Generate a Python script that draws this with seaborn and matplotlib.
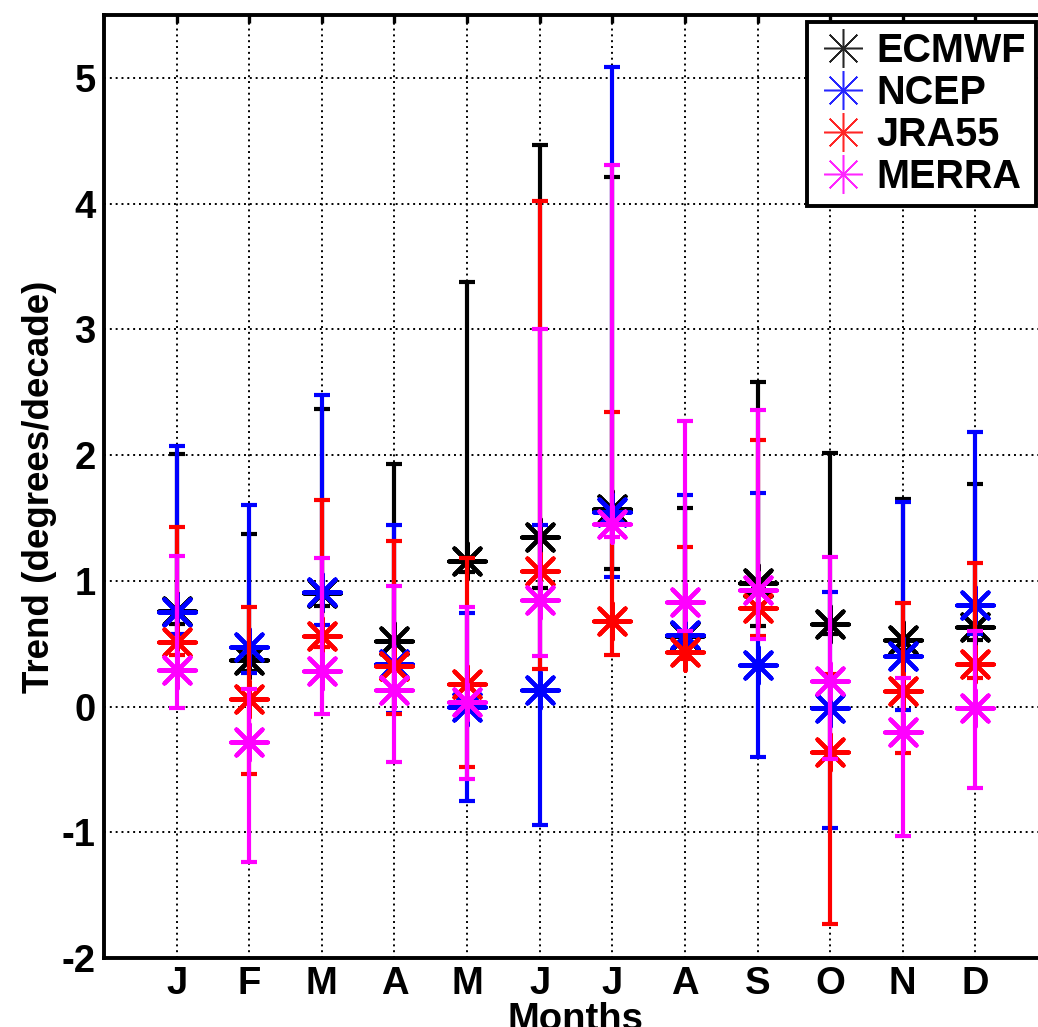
import numpy as np
import matplotlib
matplotlib.use("Agg")
import matplotlib.pyplot as plt
from matplotlib.lines import Line2D
import seaborn as sns

# data (trend in degrees/decade, with lower/upper bounds)
months = ["J", "F", "M", "A", "M", "J", "J", "A", "S", "O", "N", "D"]
names = ["ECMWF", "NCEP", "JRA55", "MERRA"]
colors = ["#000000", "#0000ff", "#ff0000", "#ff00ff"]

ecmwf_mid = [0.76, 0.37, 0.90, 0.52, 1.16, 1.35, 1.57, 0.56, 0.98, 0.66, 0.53, 0.63]
ecmwf_hi = [2.01, 1.37, 2.37, 1.93, 3.38, 4.47, 4.21, 1.58, 2.58, 2.02, 1.65, 1.77]
ecmwf_lo = [0.66, 0.28, 0.80, 0.35, 1.07, 0.94, 1.09, 0.48, 0.64, 0.58, 0.45, 0.53]

ncep_mid = [0.75, 0.47, 0.91, 0.34, 0.00, 0.13, 1.55, 0.57, 0.33, -0.01, 0.40, 0.81]
ncep_hi = [2.07, 1.60, 2.48, 1.44, 0.74, 1.44, 5.09, 1.68, 1.70, 0.91, 1.63, 2.18]
ncep_lo = [0.58, 0.27, 0.65, -0.05, -0.75, -0.94, 1.03, 0.50, -0.40, -0.97, -0.03, 0.58]

jra_mid = [0.51, 0.06, 0.56, 0.32, 0.18, 1.08, 0.68, 0.43, 0.78, -0.36, 0.12, 0.34]
jra_hi = [1.43, 0.79, 1.64, 1.32, 1.18, 4.02, 2.34, 1.27, 2.12, 0.26, 0.82, 1.14]
jra_lo = [0.41, -0.54, 0.47, -0.06, -0.48, 0.30, 0.41, 0.38, 0.56, -1.73, -0.37, 0.23]

merra_mid = [0.29, -0.28, 0.28, 0.13, 0.04, 0.85, 1.45, 0.83, 0.93, 0.20, -0.20, -0.01]
merra_hi = [1.20, 0.14, 1.18, 0.96, 0.79, 3.00, 4.31, 2.27, 2.36, 1.19, 0.23, 0.60]
merra_lo = [-0.01, -1.24, -0.06, -0.44, -0.58, 0.40, 1.35, 0.60, 0.54, -0.42, -1.03, -0.65]

mids = [ecmwf_mid, ncep_mid, jra_mid, merra_mid]
highs = [ecmwf_hi, ncep_hi, jra_hi, merra_hi]
lows = [ecmwf_lo, ncep_lo, jra_lo, merra_lo]

# =====================================================
# Style
# =====================================================

sns.set_theme(style="white")
plt.rcParams["font.family"] = ["Liberation Sans", "DejaVu Sans"]
plt.rcParams["font.weight"] = "bold"
plt.rcParams["axes.unicode_minus"] = False
plt.rcParams["text.color"] = "black"
plt.rcParams["axes.labelcolor"] = "black"
plt.rcParams["xtick.color"] = "black"
plt.rcParams["ytick.color"] = "black"

fig = plt.figure(figsize=(10.38, 10.27), dpi=100)
ax = fig.add_axes([104 / 1038, 69 / 1027, 944 / 1038, 943 / 1027])

asterisk = (8, 2, 0)
x = np.arange(1, len(months) + 1)

# =====================================================
# Error bars + markers, one series after the other
# =====================================================

for i, (name, c) in enumerate(zip(names, colors)):
    mid = np.array(mids[i])
    hi = np.array(highs[i])
    lo = np.array(lows[i])

    ax.errorbar(
        x, mid,
        yerr=[mid - lo, hi - mid],
        fmt="none",
        ecolor=c,
        elinewidth=3,
        capsize=5.5,
        capthick=3,
        zorder=3 + 2 * i
    )

    sns.scatterplot(
        x=x, y=mid,
        marker=asterisk,
        s=700,
        color=c,
        linewidth=3,
        ax=ax,
        legend=False,
        zorder=4 + 2 * i
    )

# =====================================================
# Axes
# =====================================================

ax.set_xlim(0, 13)
ax.set_ylim(-2, 5.5)
ax.set_xticks(x)
ax.set_xticklabels(months)
ax.set_yticks(np.arange(-2, 6))

ax.grid(True, color="black", linestyle=(0, (1, 2)), linewidth=1.4)
ax.set_axisbelow(True)

for sp in ax.spines.values():
    sp.set_color("black")
    sp.set_linewidth(2.8)

ax.tick_params(
    direction="in", length=6, width=2.4,
    top=True, right=True, labelsize=27.5, pad=6, colors="black"
)
ax.tick_params(axis="x", pad=6)

ax.set_xlabel("Months", fontsize=27.5, fontweight="bold", labelpad=0)
ax.set_ylabel("Trend (degrees/decade)", fontsize=26.5, fontweight="bold", labelpad=3)

# =====================================================
# Legend
# =====================================================

handles = [
    Line2D([], [], color=c, marker=asterisk, markersize=28,
           markeredgewidth=1.1, linestyle="None", alpha=0.85)
    for c in colors
]

leg = ax.legend(
    handles, names,
    loc="upper right",
    bbox_to_anchor=(1036 / 1038, 1 - 22 / 1027),
    bbox_transform=fig.transFigure,
    borderaxespad=0,
    borderpad=0.25,
    handlelength=1.3,
    handletextpad=0.2,
    labelspacing=0.1,
    fancybox=False,
    framealpha=1,
    prop={"size": 28.5, "weight": "bold"}
)
leg.get_frame().set_edgecolor("black")
leg.get_frame().set_linewidth(2.8)
leg.set_zorder(20)

fig.savefig("out.png", dpi=100)
